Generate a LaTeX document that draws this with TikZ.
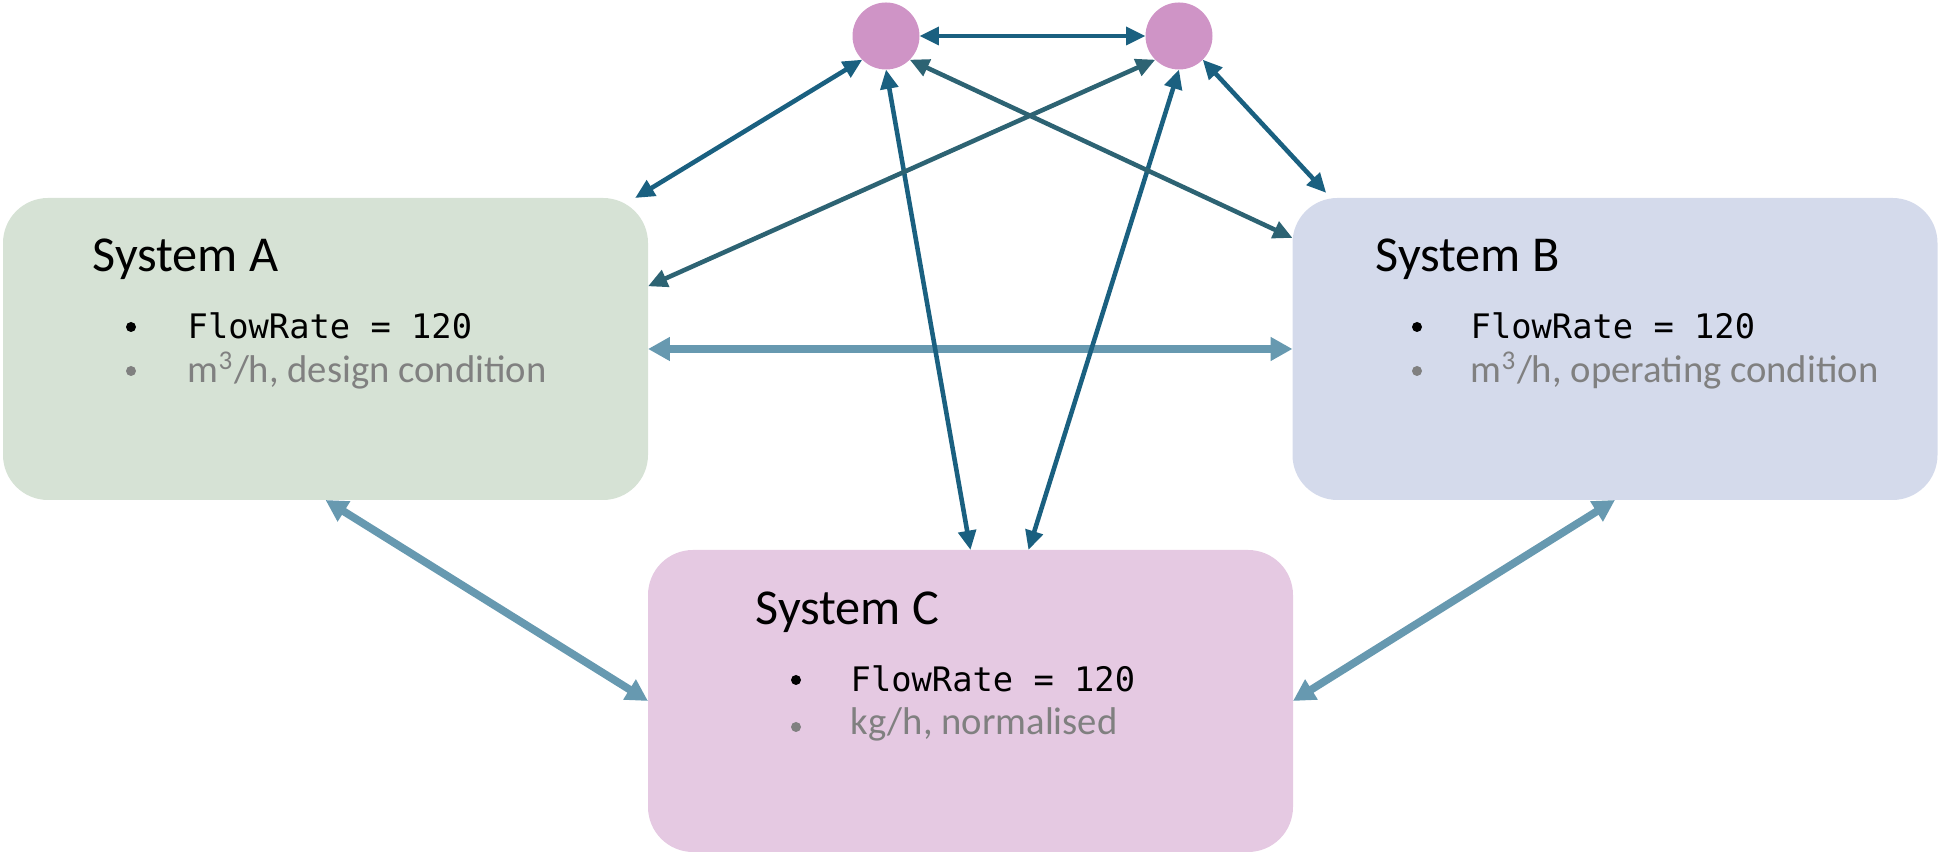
\documentclass[tikz,border=0pt]{standalone}
\usepackage{fontspec}
\setmainfont{Carlito}
\setmonofont{DejaVu Sans Mono}
\usetikzlibrary{arrows.meta}

\definecolor{sysA}{HTML}{D6E2D5}
\definecolor{sysB}{HTML}{D4DAEB}
\definecolor{sysC}{HTML}{E5C9E2}
\definecolor{hubpink}{HTML}{CF94C6}
\definecolor{linkblue}{HTML}{1A6080}
\definecolor{linkteal}{HTML}{2D6373}
\definecolor{linklight}{HTML}{6799B0}
\definecolor{notegray}{HTML}{808080}

\begin{document}
\begin{tikzpicture}[
    box/.style={rectangle, rounded corners=0.45cm, minimum width=6.45cm,
      minimum height=3.02cm, inner sep=0pt, outer sep=0pt},
    hub/.style={circle, fill=hubpink, minimum size=0.67cm, inner sep=0pt, outer sep=0pt},
    title/.style={anchor=base west, inner sep=0pt, font=\fontsize{14.3}{17}\selectfont},
    value/.style={anchor=base west, inner sep=0pt, font=\ttfamily\fontsize{9.6}{11}\selectfont},
    note/.style={anchor=base west, inner sep=0pt, text=notegray, font=\fontsize{11}{13}\selectfont},
    dot/.style={circle, inner sep=0pt, minimum size=0.1cm, fill=#1},
    thinlink/.style={draw=linkblue, line width=1.3pt,
      {Triangle[length=5.5pt,width=5pt]}-{Triangle[length=5.5pt,width=5pt]}},
    thicklink/.style={draw=linklight, line width=2.2pt,
      {Triangle[length=6.2pt,width=6.4pt]}-{Triangle[length=6.2pt,width=6.4pt]}}
  ]

  \useasboundingbox (0,0) rectangle (19.39,8.55);

  \begin{scope}[every node/.style={box}]
    \node[fill=sysA] (A) at (3.255,5.06) {};
    \node[fill=sysB] (B) at (16.15,5.06) {};
    \node[fill=sysC] (C) at (9.705,1.54) {};
  \end{scope}

  \node[hub] (h1) at (8.86,8.19) {};
  \node[hub] (h2) at (11.79,8.19) {};

  % System A
  \node[title] (Atitle) at (0.92,5.83) {System A};
  \node[dot=black] (Adot1) at (1.31,5.28) {};
  \node[value] (Avalue) at (1.87,5.16) {FlowRate = 120};
  \node[dot=notegray] (Adot2) at (1.31,4.84) {};
  \node[note] (Anote) at (1.87,4.72) {m\textsuperscript{3}/h, design condition};

  % System B
  \node[title] (Btitle) at (13.75,5.83) {System B};
  \node[dot=black] (Bdot1) at (14.17,5.28) {};
  \node[value] (Bvalue) at (14.70,5.16) {FlowRate = 120};
  \node[dot=notegray] (Bdot2) at (14.17,4.84) {};
  \node[note] (Bnote) at (14.70,4.72) {m\textsuperscript{3}/h, operating condition};

  % System C
  \node[title] (Ctitle) at (7.55,2.30) {System C};
  \node[dot=black] (Cdot1) at (7.96,1.75) {};
  \node[value] (Cvalue) at (8.50,1.63) {FlowRate = 120};
  \node[dot=notegray] (Cdot2) at (7.96,1.28) {};
  \node[note] (Cnote) at (8.50,1.20) {kg/h, normalised};

  \begin{scope}[every edge/.style={thicklink}]
    \path (A) edge (B);
    \path (A.south) edge (C.west);
    \path (B.south) edge (C.east);
  \end{scope}

  \begin{scope}[every edge/.style={thinlink}]
    \path (h1) edge (h2);
    \path (h1.south west) edge (A.26);
    \path (h1.south) edge (C.north);
    \path (h2.south) edge (C.69);
    \path (h2.south east) edge[shorten >=0.07cm] (B.152);
    \path (h2.south west) edge[draw=linkteal] (A.11.6);
    \path (h1.south east) edge[draw=linkteal] (B.161);
  \end{scope}

\end{tikzpicture}
\end{document}
